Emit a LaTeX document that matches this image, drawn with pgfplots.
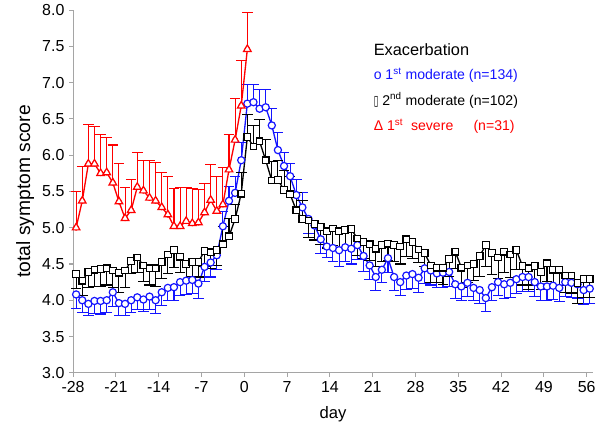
\documentclass[border=0pt]{standalone}
\usepackage{fontspec}
\setmainfont{Liberation Sans}
\newfontfamily\dejavu{DejaVu Sans}
\usepackage{graphicx}
\usepackage{pgfplots}
\pgfplotsset{compat=1.18}
\usepackage{pgfplotstable}
\definecolor{sblue}{RGB}{20,20,255}
\definecolor{sred}{RGB}{255,0,0}
\definecolor{axgray}{RGB}{165,165,165}

\pgfplotstableread{
d v e
-28 4.08 0.19
-27 4.00 0.17
-26 3.95 0.16
-25 3.99 0.17
-24 3.99 0.18
-23 4.00 0.17
-22 4.11 0.20
-21 3.96 0.17
-20 3.95 0.16
-19 4.00 0.17
-18 4.04 0.17
-17 4.01 0.17
-16 4.05 0.18
-15 4.00 0.18
-14 4.11 0.18
-13 4.17 0.18
-12 4.18 0.18
-11 4.25 0.18
-10 4.27 0.19
-9 4.28 0.19
-8 4.23 0.20
-7 4.46 0.20
-6 4.52 0.20
-5 4.62 0.20
-4 5.02 0.20
-3 5.37 0.20
-2 5.48 0.22
-1 5.93 0.24
0 6.71 0.26
1 6.73 0.24
2 6.64 0.26
3 6.66 0.25
4 6.41 0.23
5 6.07 0.24
6 5.85 0.19
7 5.71 0.18
8 5.45 0.21
9 5.28 0.20
10 5.12 0.20
11 5.03 0.20
12 4.84 0.20
13 4.74 0.15
14 4.72 0.19
15 4.69 0.22
16 4.73 0.20
17 4.71 0.21
18 4.76 0.20
19 4.61 0.21
20 4.48 0.19
21 4.32 0.18
22 4.42 0.18
23 4.58 0.20
24 4.32 0.18
25 4.25 0.19
26 4.34 0.19
27 4.36 0.20
28 4.31 0.20
29 4.44 0.21
30 4.41 0.20
31 4.37 0.20
32 4.38 0.20
33 4.39 0.20
34 4.22 0.19
35 4.19 0.19
36 4.24 0.19
37 4.17 0.18
38 4.14 0.19
39 4.03 0.19
40 4.18 0.19
41 4.25 0.19
42 4.22 0.19
43 4.24 0.20
44 4.29 0.20
45 4.32 0.20
46 4.32 0.20
47 4.25 0.20
48 4.19 0.20
49 4.19 0.19
50 4.20 0.19
51 4.17 0.19
52 4.25 0.20
53 4.24 0.20
54 4.22 0.20
55 4.14 0.20
56 4.16 0.20
}\bluedata

\pgfplotstableread{
d v e
-28 4.36 0.20
-27 4.27 0.21
-26 4.39 0.22
-25 4.42 0.23
-24 4.43 0.24
-23 4.44 0.23
-22 4.41 0.24
-21 4.38 0.27
-20 4.41 0.23
-19 4.54 0.17
-18 4.59 0.21
-17 4.48 0.22
-16 4.44 0.23
-15 4.44 0.25
-14 4.53 0.23
-13 4.63 0.26
-12 4.69 0.24
-11 4.60 0.22
-10 4.50 0.23
-9 4.53 0.20
-8 4.53 0.21
-7 4.68 0.21
-6 4.66 0.22
-5 4.69 0.21
-4 4.77 0.25
-3 4.88 0.25
-2 5.12 0.20
-1 5.47 0.29
0 6.25 0.31
1 6.12 0.29
2 6.19 0.30
3 5.93 0.28
4 5.65 0.26
5 5.66 0.27
6 5.52 0.27
7 5.46 0.25
8 5.24 0.24
9 5.12 0.25
10 5.10 0.23
11 5.05 0.22
12 5.01 0.24
13 4.95 0.23
14 4.99 0.24
15 4.95 0.22
16 4.97 0.24
17 4.98 0.25
18 4.85 0.23
19 4.80 0.23
20 4.77 0.22
21 4.71 0.24
22 4.76 0.22
23 4.78 0.23
24 4.76 0.22
25 4.74 0.24
26 4.84 0.24
27 4.80 0.23
28 4.70 0.18
29 4.65 0.19
30 4.48 0.23
31 4.45 0.20
32 4.45 0.23
33 4.57 0.24
34 4.67 0.23
35 4.45 0.28
36 4.48 0.24
37 4.50 0.23
38 4.61 0.28
39 4.76 0.29
40 4.65 0.30
41 4.59 0.29
42 4.67 0.29
43 4.63 0.32
44 4.69 0.26
45 4.47 0.26
46 4.44 0.29
47 4.47 0.26
48 4.39 0.24
49 4.51 0.25
50 4.42 0.26
51 4.42 0.22
52 4.34 0.23
53 4.34 0.24
54 4.24 0.28
55 4.29 0.25
56 4.29 0.25
}\blackdata

\pgfplotstableread{
d v e
-28 5.00 0.50
-27 5.37 0.48
-26 5.88 0.54
-25 5.88 0.52
-24 5.75 0.53
-23 5.76 0.48
-22 5.62 0.52
-21 5.36 0.52
-20 5.13 0.43
-19 5.24 0.42
-18 5.56 0.48
-17 5.51 0.42
-16 5.41 0.52
-15 5.37 0.53
-14 5.28 0.48
-13 5.18 0.52
-12 5.02 0.52
-11 5.02 0.54
-10 5.09 0.47
-9 5.06 0.48
-8 5.07 0.46
-7 5.21 0.40
-6 5.38 0.49
-5 5.23 0.47
-4 5.32 0.51
-3 5.80 0.48
-2 6.21 0.57
-1 6.68 0.63
0 7.46 0.50
}\reddata

\begin{document}
\begin{tikzpicture}
\begin{axis}[
  scale only axis,
  width=391.2pt, height=273pt,
  xmin=-28, xmax=57, ymin=3, ymax=8,
  axis lines*=left,
  axis line style={axgray, line width=0.8pt},
  tick style={axgray, line width=0.8pt},
  tick align=outside,
  major tick length=3pt,
  xtick={-28,-21,-14,-7,0,7,14,21,28,35,42,49,56},
  ytick={3,3.5,4,4.5,5,5.5,6,6.5,7,7.5,8},
  yticklabel style={/pgf/number format/.cd, fixed, fixed zerofill, precision=1},
  /pgf/number format/assume math mode=true,
  tick label style={font=\fontsize{12}{14}\selectfont},
  xlabel={day},
  ylabel={total symptom score},
  xlabel style={font=\fontsize{12.5}{15}\selectfont, at={(axis description cs:0.5,-0.113)}, anchor=center},
  ylabel style={font=\fontsize{14.5}{17}\selectfont, at={(axis description cs:-0.092,0.5)}, anchor=center},
  clip=false,
]
% blue series: error bars
\addplot[sblue, only marks, mark=none, forget plot,
  skip coords between index={0}{24}, skip coords between index={38}{85},
  error bars/.cd, y dir=plus, y explicit, error mark=-,
  error bar style={sblue, line width=0.8pt},
  error mark options={rotate=90, sblue, mark size=4pt, line width=0.8pt}]
  table[x expr=\thisrow{d}+0.5, y=v, y error=e] {\bluedata};
\addplot[sblue, only marks, mark=none, forget plot,
  skip coords between index={24}{38},
  error bars/.cd, y dir=minus, y explicit, error mark=-,
  error bar style={sblue, line width=0.8pt},
  error mark options={rotate=90, sblue, mark size=4pt, line width=0.8pt}]
  table[x expr=\thisrow{d}+0.5, y=v, y error=e] {\bluedata};
\addplot[sblue, line width=1pt, mark=*, mark size=2.7pt,
  mark options={fill=white, draw=sblue, line width=0.9pt}]
  table[x expr=\thisrow{d}+0.5, y=v] {\bluedata};
% black series
\addplot[black, only marks, mark=none, forget plot,
  skip coords between index={24}{38},
  error bars/.cd, y dir=minus, y explicit, error mark=-,
  error bar style={black, line width=0.8pt},
  error mark options={rotate=90, black, mark size=4pt, line width=0.8pt}]
  table[x expr=\thisrow{d}+0.5, y=v, y error=e] {\blackdata};
\addplot[black, only marks, mark=none, forget plot,
  skip coords between index={0}{24}, skip coords between index={38}{85},
  error bars/.cd, y dir=plus, y explicit, error mark=-,
  error bar style={black, line width=0.8pt},
  error mark options={rotate=90, black, mark size=4pt, line width=0.8pt}]
  table[x expr=\thisrow{d}+0.5, y=v, y error=e] {\blackdata};
\addplot[black, line width=1pt, mark=square*, mark size=2.5pt,
  mark options={fill=white, draw=black, line width=0.9pt}]
  table[x expr=\thisrow{d}+0.5, y=v] {\blackdata};
% red series
\addplot[sred, only marks, mark=none, forget plot,
  error bars/.cd, y dir=plus, y explicit, error mark=-,
  error bar style={sred, line width=0.8pt},
  error mark options={rotate=90, sred, mark size=4pt, line width=0.8pt}]
  table[x expr=\thisrow{d}+0.5, y=v, y error=e] {\reddata};
\addplot[sred, line width=1pt, mark=triangle*, mark size=3.3pt,
  mark options={fill=white, draw=sred, line width=0.9pt}]
  table[x expr=\thisrow{d}+0.5, y=v] {\reddata};

% legend as text
\node[anchor=base west, inner sep=0pt, font=\fontsize{12.3}{14}\selectfont]
  at (axis description cs:0.578,0.876) {Exacerbation};
\node[anchor=base west, inner sep=0pt, text=sblue, font=\fontsize{10.6}{13}\selectfont]
  at (axis description cs:0.578,0.808) {o 1\textsuperscript{st} moderate (n=134)};
\node[anchor=base west, inner sep=0pt, text=black, font=\fontsize{10.6}{13}\selectfont]
  at (axis description cs:0.578,0.738) {{\dejavu\scalebox{0.6}[1]{▯}} 2\textsuperscript{nd} moderate (n=102)};
\node[anchor=base west, inner sep=0pt, text=sred, font=\fontsize{10.6}{13}\selectfont]
  at (axis description cs:0.578,0.668) {Δ 1\textsuperscript{st}\ \ severe};
\node[anchor=base west, inner sep=0pt, text=sred, font=\fontsize{10.6}{13}\selectfont]
  at (axis description cs:0.770,0.668) {(n=31)};
\end{axis}
\path ([xshift=-55pt,yshift=-42pt]current axis.south west) rectangle ([xshift=3.8pt,yshift=7.5pt]current axis.north east);
\end{tikzpicture}
\end{document}
